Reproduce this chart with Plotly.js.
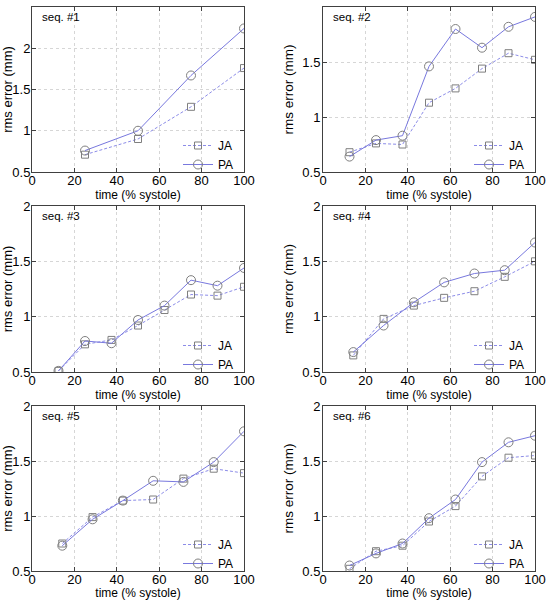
<!DOCTYPE html>
<html>
<head>
<meta charset="utf-8">
<script src="https://cdn.plot.ly/plotly-3.0.1.min.js"></script>
<style>html,body{margin:0;padding:0;background:#fff;}#chart{width:546px;height:600px;}</style>
</head>
<body>
<div id="chart"></div>
<script>
// ---- data ----
const seqNames = ["seq. #1", "seq. #2", "seq. #3", "seq. #4", "seq. #5", "seq. #6"];
const seriesNames = ["JA", "PA"];

const x1 = [25, 50, 75, 100];
const ja1 = [0.71, 0.90, 1.29, 1.76];
const pa1 = [0.76, 1.00, 1.67, 2.24];

const x2 = [12.5, 25, 37.5, 50, 62.5, 75, 87.5, 100];
const ja2 = [0.68, 0.76, 0.75, 1.13, 1.26, 1.44, 1.58, 1.52];
const pa2 = [0.64, 0.79, 0.83, 1.46, 1.80, 1.63, 1.82, 1.91];

const x3 = [12.5, 25, 37.5, 50, 62.5, 75, 87.5, 100];
const ja3 = [0.51, 0.75, 0.79, 0.92, 1.06, 1.20, 1.19, 1.27];
const pa3 = [0.51, 0.78, 0.76, 0.97, 1.10, 1.33, 1.28, 1.44];

const x4 = [14.29, 28.57, 42.86, 57.14, 71.43, 85.71, 100];
const ja4 = [0.65, 0.98, 1.10, 1.17, 1.23, 1.36, 1.50];
const pa4 = [0.68, 0.92, 1.13, 1.31, 1.39, 1.42, 1.67];

const x5 = [14.29, 28.57, 42.86, 57.14, 71.43, 85.71, 100];
const ja5 = [0.75, 0.99, 1.14, 1.15, 1.34, 1.43, 1.39];
const pa5 = [0.73, 0.97, 1.14, 1.32, 1.31, 1.49, 1.77];

const x6 = [12.5, 25, 37.5, 50, 62.5, 75, 87.5, 100];
const ja6 = [0.52, 0.68, 0.73, 0.95, 1.09, 1.36, 1.53, 1.55];
const pa6 = [0.55, 0.66, 0.75, 0.98, 1.15, 1.49, 1.67, 1.73];

const yMax = [2.5, 2, 2, 2, 2, 2];
const xTicks = [0, 20, 40, 60, 80, 100];
const xTitle = "time (% systole)";
const yTitle = "rms error (mm)";

// ---- build ----
const xs = [x1, x2, x3, x4, x5, x6];
const jas = [ja1, ja2, ja3, ja4, ja5, ja6];
const pas = [pa1, pa2, pa3, pa4, pa5, pa6];

const W = 546, H = 600;
const colX = [[32, 244], [323, 535]];
const rowY = [[7, 172], [206, 372], [406, 571]];

const font = "Liberation Sans, Arial, Helvetica, sans-serif";
const jaLine = "#8c8ce8";
const paLine = "#7878de";
const mk = "#7f7f7f";
const axCol = "#404040";

const traces = [];
const layout = {
  width: W, height: H,
  margin: {l: 0, r: 0, t: 0, b: 0},
  paper_bgcolor: "#fff", plot_bgcolor: "#fff",
  font: {family: font, size: 13, color: "#000"},
  showlegend: true,
  annotations: []
};

for (let i = 0; i < 6; i++) {
  const r = Math.floor(i / 2), c = i % 2;
  const sfx = i === 0 ? "" : String(i + 1);
  const xa = "x" + sfx, ya = "y" + sfx;
  const leg = "legend" + sfx;
  const xd = [colX[c][0] / W, colX[c][1] / W];
  const yd = [1 - rowY[r][1] / H, 1 - rowY[r][0] / H];

  traces.push({
    x: xs[i], y: jas[i], name: seriesNames[0], type: "scatter", mode: "lines+markers",
    xaxis: xa, yaxis: ya, legend: leg,
    line: {color: jaLine, width: 1, dash: "3px,2px"},
    marker: {symbol: "square-open", size: 7, color: mk, line: {width: 1, color: mk}}
  });
  traces.push({
    x: xs[i], y: pas[i], name: seriesNames[1], type: "scatter", mode: "lines+markers",
    xaxis: xa, yaxis: ya, legend: leg,
    line: {color: paLine, width: 1},
    marker: {symbol: "circle-open", size: 9, color: mk, line: {width: 1, color: mk}}
  });

  const common = {
    showline: true, linecolor: axCol, linewidth: 1, mirror: "ticks",
    ticks: "inside", ticklen: 4, tickcolor: axCol,
    showgrid: true, gridcolor: "#d6d6d6", griddash: "dot", gridwidth: 1,
    zeroline: false, tickfont: {family: font, size: 13, color: "#000"}
  };
  layout["xaxis" + sfx] = Object.assign({}, common, {
    domain: xd, anchor: ya, range: [0, 100], tickvals: xTicks,
    ticklabelstandoff: -4,
    title: {text: xTitle, font: {family: font, size: 12, color: "#000"}, standoff: 0}
  });
  layout["yaxis" + sfx] = Object.assign({}, common, {
    domain: yd, anchor: xa, range: [0.5, yMax[i]], dtick: 0.5, tick0: 0.5,
    ticklabelstandoff: c === 0 ? -2 : -1,
    title: {text: yTitle, font: {family: font, size: c === 0 ? 13 : 13.5, color: "#000"}, standoff: c === 0 ? 1 : 5}
  });
  layout[leg] = {
    x: xd[1] - 5 / W, xanchor: "right", y: yd[0] - 7 / H, yanchor: "bottom",
    xref: "paper", yref: "paper",
    bgcolor: "rgba(0,0,0,0)", borderwidth: 0,
    font: {family: font, size: 12, color: "#000"},
    itemwidth: 30, tracegroupgap: 0
  };
  layout.annotations.push({
    text: seqNames[i], xref: xa + " domain", yref: ya + " domain",
    x: 0.04, y: 0.985, xanchor: "left", yanchor: "top", showarrow: false,
    font: {family: font, size: 11.5, color: "#000"}
  });
}

Plotly.newPlot("chart", traces, layout, {displayModeBar: false, staticPlot: true});
</script>
</body>
</html>
